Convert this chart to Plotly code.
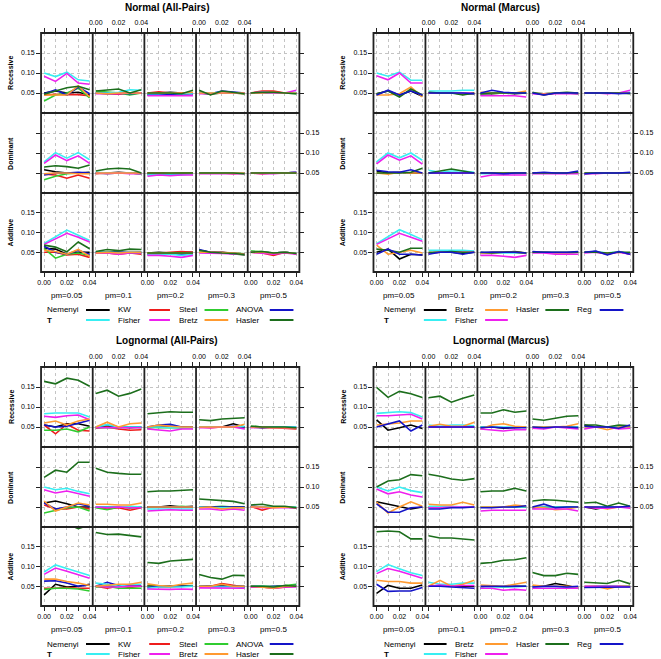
import plotly.graph_objects as go

# ---------------- data ----------------
X_VALUES = [0.00, 0.01, 0.02, 0.03, 0.04]
X_TICK_TEXT = ["0.00", "", "0.02", "", "0.04"]
Y_TICK_VALUES = [0.05, 0.10, 0.15]
Y_TICK_TEXT = ["0.05", "0.10", "0.15"]
PM_LABELS = ["pm=0.05", "pm=0.1", "pm=0.2", "pm=0.3", "pm=0.5"]
MODELS = ["Recessive", "Dominant", "Additive"]

# each array: 15 panels (Recessive pm .05..0.5, Dominant ..., Additive ...) x 5 points
# ---- Normal (All-Pairs)
NAP_NEMENYI = [
    [0.050,0.055,0.050,0.052,0.045],[0.050,0.048,0.048,0.050,0.050],[0.048,0.050,0.052,0.050,0.050],[0.052,0.048,0.052,0.050,0.050],[0.050,0.050,0.052,0.050,0.050],
    [0.058,0.053,0.050,0.050,0.052],[0.050,0.050,0.052,0.050,0.048],[0.050,0.050,0.048,0.050,0.050],[0.050,0.050,0.050,0.050,0.050],[0.050,0.050,0.050,0.050,0.052],
    [0.060,0.058,0.045,0.050,0.050],[0.050,0.050,0.050,0.048,0.050],[0.048,0.050,0.048,0.050,0.050],[0.055,0.050,0.050,0.046,0.044],[0.052,0.050,0.048,0.050,0.046]]
NAP_KW = [
    [0.045,0.047,0.046,0.046,0.043],[0.050,0.050,0.047,0.050,0.050],[0.050,0.053,0.050,0.050,0.050],[0.050,0.048,0.050,0.050,0.048],[0.050,0.055,0.055,0.050,0.050],
    [0.047,0.045,0.037,0.045,0.037],[0.048,0.050,0.050,0.050,0.048],[0.050,0.050,0.048,0.048,0.050],[0.050,0.050,0.050,0.048,0.050],[0.050,0.048,0.050,0.050,0.050],
    [0.050,0.050,0.043,0.045,0.037],[0.048,0.048,0.045,0.048,0.045],[0.048,0.048,0.050,0.052,0.050],[0.050,0.050,0.048,0.048,0.045],[0.050,0.048,0.042,0.050,0.046]]
NAP_STEEL = [
    [0.030,0.045,0.050,0.062,0.038],[0.055,0.052,0.050,0.045,0.050],[0.048,0.048,0.048,0.048,0.050],[0.050,0.047,0.050,0.050,0.048],[0.050,0.050,0.050,0.050,0.048],
    [0.033,0.042,0.048,0.050,0.050],[0.050,0.048,0.050,0.050,0.048],[0.048,0.048,0.048,0.050,0.050],[0.050,0.050,0.050,0.050,0.048],[0.050,0.050,0.050,0.050,0.050],
    [0.060,0.035,0.045,0.048,0.042],[0.050,0.052,0.050,0.048,0.048],[0.048,0.048,0.047,0.048,0.048],[0.050,0.050,0.048,0.048,0.046],[0.053,0.052,0.048,0.050,0.047]]
NAP_ANOVA = [
    [0.048,0.058,0.045,0.065,0.048],[0.050,0.050,0.050,0.048,0.050],[0.045,0.047,0.047,0.047,0.048],[0.050,0.048,0.055,0.052,0.050],[0.050,0.050,0.050,0.050,0.050],
    [0.045,0.050,0.050,0.052,0.050],[0.050,0.050,0.050,0.050,0.050],[0.048,0.048,0.045,0.048,0.050],[0.050,0.050,0.050,0.050,0.050],[0.050,0.050,0.050,0.050,0.052],
    [0.065,0.050,0.045,0.055,0.045],[0.050,0.050,0.050,0.050,0.050],[0.045,0.045,0.045,0.045,0.045],[0.057,0.050,0.050,0.047,0.045],[0.050,0.050,0.048,0.050,0.047]]
NAP_T = [
    [0.100,0.091,0.102,0.083,0.080],[0.050,0.050,0.052,0.058,0.057],[0.048,0.048,0.050,0.048,0.050],[0.050,0.050,0.052,0.050,0.050],[0.050,0.052,0.050,0.050,0.052],
    [0.078,0.101,0.087,0.101,0.083],[0.052,0.050,0.050,0.050,0.048],[0.045,0.045,0.045,0.045,0.048],[0.050,0.050,0.050,0.050,0.050],[0.050,0.050,0.050,0.050,0.052],
    [0.072,0.088,0.106,0.093,0.080],[0.050,0.050,0.048,0.050,0.050],[0.045,0.045,0.045,0.042,0.045],[0.050,0.048,0.048,0.046,0.045],[0.050,0.050,0.048,0.050,0.047]]
NAP_FISHER = [
    [0.092,0.079,0.099,0.075,0.072],[0.048,0.048,0.048,0.050,0.050],[0.043,0.043,0.043,0.043,0.043],[0.048,0.048,0.050,0.050,0.050],[0.050,0.052,0.050,0.050,0.057],
    [0.074,0.095,0.081,0.093,0.074],[0.050,0.048,0.050,0.048,0.048],[0.042,0.045,0.043,0.045,0.045],[0.048,0.048,0.048,0.047,0.048],[0.050,0.048,0.048,0.050,0.052],
    [0.070,0.085,0.098,0.088,0.076],[0.048,0.048,0.045,0.048,0.048],[0.042,0.042,0.040,0.037,0.042],[0.048,0.048,0.047,0.046,0.045],[0.050,0.048,0.045,0.048,0.045]]
NAP_BRETZ = [
    [0.045,0.045,0.045,0.068,0.040],[0.050,0.048,0.050,0.050,0.050],[0.050,0.050,0.050,0.050,0.052],[0.050,0.050,0.050,0.050,0.050],[0.050,0.050,0.052,0.050,0.050],
    [0.048,0.050,0.050,0.048,0.048],[0.050,0.050,0.050,0.050,0.050],[0.050,0.050,0.050,0.050,0.050],[0.050,0.050,0.050,0.050,0.050],[0.050,0.050,0.050,0.050,0.050],
    [0.055,0.052,0.045,0.057,0.040],[0.048,0.050,0.048,0.050,0.050],[0.048,0.048,0.048,0.048,0.048],[0.050,0.050,0.050,0.048,0.045],[0.050,0.050,0.048,0.050,0.047]]
NAP_HASLER = [
    [0.047,0.055,0.063,0.067,0.058],[0.055,0.058,0.060,0.050,0.058],[0.050,0.050,0.050,0.048,0.057],[0.057,0.045,0.055,0.052,0.048],[0.050,0.052,0.052,0.050,0.048],
    [0.065,0.068,0.066,0.062,0.070],[0.055,0.060,0.062,0.060,0.050],[0.050,0.050,0.050,0.050,0.050],[0.050,0.050,0.050,0.050,0.048],[0.050,0.050,0.050,0.050,0.050],
    [0.068,0.063,0.051,0.076,0.059],[0.052,0.057,0.054,0.058,0.057],[0.048,0.048,0.048,0.048,0.048],[0.055,0.050,0.048,0.047,0.044],[0.050,0.052,0.048,0.050,0.047]]

# ---- Normal (Marcus)
NM_NEMENYI = [
    [0.048,0.055,0.045,0.055,0.042],[0.050,0.050,0.050,0.048,0.048],[0.048,0.048,0.050,0.048,0.050],[0.050,0.048,0.050,0.050,0.048],[0.050,0.050,0.050,0.050,0.050],
    [0.055,0.050,0.052,0.050,0.050],[0.050,0.050,0.050,0.050,0.050],[0.050,0.050,0.048,0.050,0.050],[0.050,0.050,0.050,0.050,0.050],[0.048,0.050,0.050,0.050,0.050],
    [0.050,0.058,0.033,0.045,0.043],[0.048,0.050,0.050,0.047,0.050],[0.048,0.050,0.050,0.052,0.048],[0.050,0.050,0.048,0.048,0.050],[0.050,0.052,0.045,0.052,0.045]]
NM_T = [
    [0.100,0.092,0.102,0.082,0.082],[0.055,0.055,0.055,0.057,0.057],[0.050,0.050,0.050,0.050,0.052],[0.050,0.048,0.050,0.050,0.050],[0.050,0.050,0.050,0.050,0.052],
    [0.078,0.100,0.088,0.100,0.082],[0.057,0.052,0.055,0.055,0.052],[0.048,0.048,0.048,0.048,0.050],[0.050,0.050,0.050,0.050,0.050],[0.050,0.050,0.050,0.050,0.050],
    [0.072,0.090,0.107,0.095,0.082],[0.055,0.055,0.055,0.055,0.053],[0.048,0.048,0.048,0.048,0.048],[0.050,0.050,0.048,0.048,0.050],[0.050,0.052,0.048,0.052,0.047]]
NM_BRETZ = [
    [0.045,0.045,0.048,0.065,0.040],[0.050,0.050,0.050,0.050,0.050],[0.052,0.050,0.050,0.050,0.055],[0.050,0.048,0.050,0.050,0.050],[0.050,0.050,0.050,0.050,0.050],
    [0.050,0.047,0.052,0.050,0.050],[0.050,0.050,0.050,0.050,0.050],[0.050,0.050,0.050,0.050,0.050],[0.050,0.050,0.050,0.050,0.050],[0.050,0.050,0.050,0.050,0.050],
    [0.068,0.045,0.050,0.055,0.048],[0.048,0.050,0.050,0.050,0.050],[0.048,0.048,0.050,0.050,0.048],[0.050,0.050,0.048,0.048,0.050],[0.050,0.050,0.048,0.050,0.048]]
NM_FISHER = [
    [0.093,0.083,0.100,0.075,0.075],[0.050,0.050,0.050,0.050,0.050],[0.043,0.043,0.043,0.043,0.040],[0.048,0.046,0.048,0.048,0.048],[0.050,0.050,0.048,0.050,0.057],
    [0.073,0.095,0.082,0.093,0.072],[0.050,0.050,0.050,0.050,0.050],[0.040,0.045,0.045,0.045,0.045],[0.048,0.048,0.048,0.048,0.048],[0.048,0.048,0.050,0.050,0.050],
    [0.070,0.085,0.098,0.088,0.078],[0.048,0.050,0.050,0.050,0.050],[0.042,0.042,0.040,0.037,0.042],[0.048,0.048,0.045,0.045,0.045],[0.048,0.050,0.045,0.050,0.045]]
NM_HASLER = [
    [0.048,0.055,0.040,0.060,0.045],[0.052,0.050,0.050,0.045,0.050],[0.048,0.050,0.050,0.050,0.050],[0.052,0.045,0.050,0.052,0.050],[0.050,0.050,0.050,0.050,0.048],
    [0.050,0.050,0.050,0.052,0.062],[0.050,0.055,0.060,0.055,0.050],[0.050,0.050,0.050,0.050,0.050],[0.050,0.050,0.050,0.050,0.052],[0.050,0.050,0.050,0.050,0.050],
    [0.058,0.055,0.050,0.060,0.060],[0.050,0.050,0.052,0.050,0.050],[0.050,0.048,0.050,0.050,0.048],[0.050,0.050,0.050,0.050,0.050],[0.050,0.050,0.048,0.050,0.050]]
NM_REG = [
    [0.045,0.057,0.045,0.055,0.045],[0.050,0.050,0.050,0.050,0.048],[0.050,0.057,0.052,0.050,0.050],[0.050,0.045,0.050,0.050,0.050],[0.050,0.050,0.050,0.048,0.050],
    [0.057,0.053,0.052,0.058,0.050],[0.050,0.050,0.050,0.050,0.050],[0.050,0.050,0.048,0.050,0.050],[0.050,0.052,0.050,0.050,0.055],[0.048,0.050,0.050,0.050,0.052],
    [0.045,0.058,0.045,0.045,0.043],[0.045,0.050,0.050,0.045,0.050],[0.050,0.050,0.050,0.050,0.048],[0.052,0.050,0.050,0.050,0.052],[0.050,0.053,0.043,0.052,0.045]]

# ---- Lognormal (All-Pairs)
LAP_NEMENYI = [
    [0.055,0.050,0.058,0.058,0.052],[0.050,0.050,0.050,0.048,0.050],[0.048,0.050,0.052,0.050,0.050],[0.050,0.050,0.050,0.058,0.050],[0.050,0.050,0.050,0.048,0.048],
    [0.060,0.065,0.058,0.050,0.050],[0.050,0.050,0.050,0.048,0.050],[0.050,0.050,0.053,0.050,0.052],[0.050,0.050,0.048,0.050,0.050],[0.050,0.050,0.050,0.050,0.048],
    [0.028,0.055,0.048,0.050,0.055],[0.050,0.050,0.050,0.050,0.050],[0.052,0.050,0.050,0.052,0.050],[0.050,0.050,0.052,0.050,0.048],[0.050,0.050,0.048,0.052,0.050]]
LAP_KW = [
    [0.055,0.033,0.057,0.042,0.040],[0.047,0.050,0.045,0.042,0.043],[0.048,0.050,0.050,0.048,0.048],[0.050,0.048,0.050,0.050,0.048],[0.050,0.048,0.048,0.047,0.045],
    [0.055,0.045,0.045,0.050,0.045],[0.050,0.045,0.048,0.042,0.048],[0.050,0.050,0.050,0.050,0.050],[0.050,0.050,0.050,0.048,0.048],[0.052,0.042,0.050,0.050,0.048],
    [0.045,0.045,0.047,0.045,0.045],[0.050,0.045,0.050,0.047,0.050],[0.050,0.048,0.048,0.050,0.050],[0.050,0.050,0.057,0.053,0.048],[0.048,0.048,0.045,0.048,0.050]]
LAP_STEEL = [
    [0.042,0.042,0.045,0.038,0.050],[0.048,0.048,0.048,0.050,0.048],[0.050,0.048,0.048,0.048,0.050],[0.050,0.050,0.050,0.050,0.050],[0.052,0.050,0.050,0.050,0.048],
    [0.035,0.042,0.048,0.050,0.040],[0.048,0.043,0.050,0.048,0.050],[0.050,0.050,0.050,0.052,0.050],[0.050,0.050,0.052,0.050,0.050],[0.050,0.050,0.050,0.050,0.050],
    [0.042,0.045,0.045,0.043,0.038],[0.048,0.050,0.045,0.045,0.045],[0.050,0.050,0.050,0.050,0.052],[0.050,0.050,0.050,0.050,0.050],[0.050,0.050,0.050,0.052,0.055]]
LAP_ANOVA = [
    [0.055,0.050,0.052,0.060,0.067],[0.050,0.055,0.050,0.050,0.050],[0.050,0.055,0.057,0.050,0.050],[0.050,0.050,0.050,0.052,0.050],[0.050,0.048,0.050,0.050,0.050],
    [0.060,0.045,0.050,0.058,0.052],[0.050,0.050,0.050,0.050,0.050],[0.050,0.050,0.050,0.050,0.050],[0.050,0.050,0.050,0.050,0.050],[0.052,0.050,0.050,0.050,0.048],
    [0.063,0.064,0.058,0.050,0.053],[0.050,0.060,0.052,0.050,0.050],[0.047,0.050,0.050,0.050,0.050],[0.050,0.050,0.050,0.050,0.050],[0.050,0.048,0.050,0.050,0.052]]
LAP_T = [
    [0.083,0.085,0.085,0.085,0.075],[0.050,0.056,0.050,0.050,0.050],[0.050,0.050,0.048,0.048,0.048],[0.050,0.050,0.050,0.050,0.052],[0.050,0.050,0.050,0.050,0.050],
    [0.100,0.093,0.097,0.089,0.083],[0.050,0.050,0.050,0.052,0.050],[0.045,0.045,0.045,0.045,0.045],[0.050,0.048,0.048,0.048,0.048],[0.050,0.050,0.050,0.050,0.050],
    [0.086,0.104,0.095,0.085,0.077],[0.058,0.055,0.050,0.055,0.055],[0.045,0.048,0.048,0.048,0.050],[0.050,0.048,0.048,0.048,0.048],[0.050,0.050,0.048,0.050,0.050]]
LAP_FISHER = [
    [0.077,0.074,0.078,0.080,0.068],[0.048,0.048,0.048,0.048,0.048],[0.045,0.043,0.040,0.045,0.045],[0.048,0.048,0.050,0.050,0.045],[0.048,0.050,0.048,0.048,0.048],
    [0.093,0.085,0.090,0.083,0.077],[0.050,0.048,0.050,0.048,0.048],[0.040,0.042,0.043,0.042,0.042],[0.045,0.045,0.042,0.045,0.042],[0.050,0.048,0.048,0.048,0.048],
    [0.080,0.096,0.088,0.078,0.070],[0.050,0.048,0.048,0.050,0.050],[0.043,0.042,0.042,0.043,0.042],[0.046,0.046,0.046,0.046,0.045],[0.048,0.048,0.045,0.048,0.048]]
LAP_BRETZ = [
    [0.060,0.065,0.055,0.065,0.070],[0.050,0.062,0.050,0.058,0.060],[0.050,0.055,0.052,0.050,0.050],[0.050,0.050,0.050,0.050,0.057],[0.050,0.050,0.048,0.048,0.048],
    [0.065,0.040,0.050,0.060,0.055],[0.057,0.057,0.055,0.055,0.060],[0.050,0.050,0.050,0.050,0.050],[0.048,0.050,0.045,0.048,0.048],[0.050,0.050,0.048,0.050,0.048],
    [0.068,0.068,0.062,0.058,0.052],[0.050,0.052,0.055,0.055,0.060],[0.056,0.052,0.050,0.055,0.058],[0.050,0.050,0.055,0.050,0.050],[0.050,0.048,0.045,0.050,0.050]]
LAP_HASLER = [
    [0.164,0.158,0.172,0.167,0.152],[0.134,0.142,0.127,0.134,0.145],[0.083,0.085,0.088,0.087,0.087],[0.068,0.066,0.070,0.072,0.073],[0.052,0.050,0.050,0.050,0.048],
    [0.124,0.142,0.137,0.162,0.162],[0.147,0.137,0.134,0.132,0.132],[0.088,0.090,0.090,0.092,0.093],[0.070,0.068,0.066,0.064,0.058],[0.055,0.057,0.052,0.052,0.048],
    [0.215,0.212,0.208,0.196,0.205],[0.186,0.181,0.182,0.179,0.175],[0.110,0.108,0.114,0.116,0.118],[0.080,0.072,0.068,0.078,0.077],[0.050,0.050,0.048,0.052,0.050]]

# ---- Lognormal (Marcus)
LM_NEMENYI = [
    [0.068,0.042,0.048,0.055,0.046],[0.050,0.050,0.050,0.050,0.050],[0.050,0.050,0.047,0.048,0.050],[0.050,0.050,0.050,0.050,0.050],[0.055,0.050,0.050,0.050,0.050],
    [0.063,0.057,0.050,0.045,0.050],[0.050,0.050,0.050,0.050,0.050],[0.050,0.050,0.050,0.050,0.050],[0.048,0.050,0.050,0.050,0.050],[0.050,0.045,0.050,0.050,0.050],
    [0.032,0.052,0.045,0.045,0.053],[0.050,0.050,0.050,0.050,0.050],[0.045,0.050,0.048,0.050,0.050],[0.050,0.050,0.057,0.052,0.045],[0.048,0.050,0.050,0.050,0.050]]
LM_T = [
    [0.084,0.086,0.088,0.086,0.075],[0.055,0.052,0.055,0.055,0.053],[0.050,0.050,0.050,0.050,0.050],[0.050,0.050,0.050,0.050,0.050],[0.050,0.050,0.050,0.050,0.050],
    [0.100,0.090,0.100,0.091,0.086],[0.052,0.052,0.052,0.050,0.050],[0.050,0.050,0.050,0.050,0.050],[0.050,0.050,0.050,0.050,0.050],[0.050,0.050,0.050,0.050,0.050],
    [0.087,0.105,0.094,0.084,0.077],[0.060,0.055,0.055,0.058,0.058],[0.045,0.048,0.048,0.048,0.050],[0.048,0.048,0.048,0.048,0.048],[0.050,0.050,0.050,0.050,0.050]]
LM_BRETZ = [
    [0.055,0.058,0.060,0.065,0.065],[0.052,0.057,0.052,0.052,0.062],[0.045,0.055,0.058,0.052,0.050],[0.050,0.050,0.050,0.052,0.058],[0.050,0.050,0.043,0.050,0.050],
    [0.062,0.035,0.050,0.063,0.052],[0.057,0.055,0.055,0.062,0.055],[0.050,0.050,0.050,0.055,0.052],[0.050,0.048,0.043,0.045,0.050],[0.050,0.050,0.045,0.050,0.050],
    [0.065,0.062,0.062,0.058,0.058],[0.050,0.065,0.050,0.055,0.065],[0.053,0.052,0.050,0.055,0.060],[0.053,0.050,0.050,0.050,0.048],[0.050,0.050,0.043,0.050,0.050]]
LM_FISHER = [
    [0.078,0.078,0.080,0.082,0.070],[0.050,0.050,0.050,0.050,0.050],[0.045,0.043,0.040,0.043,0.043],[0.047,0.045,0.050,0.048,0.045],[0.045,0.050,0.050,0.045,0.047],
    [0.095,0.083,0.088,0.080,0.075],[0.048,0.048,0.050,0.050,0.050],[0.040,0.042,0.042,0.042,0.042],[0.045,0.045,0.045,0.045,0.040],[0.050,0.047,0.047,0.050,0.047],
    [0.082,0.095,0.088,0.078,0.070],[0.050,0.053,0.050,0.052,0.052],[0.045,0.045,0.040,0.042,0.040],[0.045,0.045,0.045,0.045,0.045],[0.050,0.050,0.050,0.050,0.048]]
LM_HASLER = [
    [0.149,0.124,0.139,0.133,0.124],[0.123,0.127,0.112,0.122,0.130],[0.085,0.085,0.093,0.087,0.090],[0.070,0.067,0.072,0.077,0.078],[0.055,0.055,0.050,0.055,0.053],
    [0.100,0.115,0.118,0.131,0.128],[0.132,0.127,0.120,0.117,0.121],[0.088,0.090,0.090,0.097,0.090],[0.065,0.068,0.067,0.065,0.062],[0.060,0.062,0.052,0.060,0.052],
    [0.188,0.190,0.188,0.170,0.170],[0.178,0.172,0.172,0.170,0.167],[0.108,0.110,0.116,0.117,0.122],[0.085,0.077,0.077,0.083,0.080],[0.060,0.058,0.057,0.065,0.056]]
LM_REG = [
    [0.050,0.057,0.065,0.040,0.055],[0.050,0.050,0.050,0.050,0.050],[0.048,0.050,0.048,0.048,0.048],[0.050,0.048,0.050,0.050,0.048],[0.052,0.050,0.050,0.047,0.055],
    [0.058,0.037,0.037,0.048,0.050],[0.045,0.045,0.048,0.048,0.050],[0.048,0.048,0.050,0.050,0.053],[0.050,0.057,0.048,0.050,0.050],[0.050,0.050,0.050,0.050,0.052],
    [0.055,0.037,0.038,0.038,0.047],[0.050,0.050,0.048,0.047,0.045],[0.050,0.050,0.050,0.050,0.050],[0.048,0.050,0.050,0.048,0.050],[0.047,0.047,0.048,0.047,0.048]]

# ---------------- styling / layout ----------------
W, H = 661, 659
FONT = "Liberation Sans, Arial, sans-serif"
FRAME = "#222222"
COL = {
    "Nemenyi": "#000000", "KW": "#EE1C1C", "Steel": "#30CC30", "ANOVA": "#1414C8",
    "T": "#38EEF2", "Fisher": "#EE20EE", "Bretz": "#FF9A30", "Hasler": "#1C6E1C",
    "Reg": "#1414C8",
}

AP_LEG_X = [(41, 83, 107), (113, 147, 168), (175, 203, 227), (233, 269, 293)]
M_LEG_X = [(383, 425, 448), (454, 487, 510), (516, 548, 572), (578, 603, 627)]

blocks = [
    dict(title="Normal (All-Pairs)", tx=165, ty=8, x0=37.5, x1=299.0, rows=[33, 113, 193, 272],
         series=[("Nemenyi", NAP_NEMENYI), ("KW", NAP_KW), ("Steel", NAP_STEEL), ("ANOVA", NAP_ANOVA),
                 ("T", NAP_T), ("Fisher", NAP_FISHER), ("Bretz", NAP_BRETZ), ("Hasler", NAP_HASLER)],
         leg_y=[310, 320], leg_x=AP_LEG_X,
         leg=[["Nemenyi", "KW", "Steel", "ANOVA"], ["T", "Fisher", "Bretz", "Hasler"]],
         strip_y=296, rowlab_x=7),
    dict(title="Normal (Marcus)", tx=503, ty=8, x0=374.0, x1=637.0, rows=[33, 113, 193, 272],
         series=[("Nemenyi", NM_NEMENYI), ("T", NM_T), ("Bretz", NM_BRETZ), ("Fisher", NM_FISHER),
                 ("Hasler", NM_HASLER), ("Reg", NM_REG)],
         leg_y=[310, 320], leg_x=M_LEG_X,
         leg=[["Nemenyi", "Bretz", "Hasler", "Reg"], ["T", "Fisher", None, None]],
         strip_y=296, rowlab_x=343),
    dict(title="Lognormal (All-Pairs)", tx=165, ty=340, x0=37.5, x1=299.0, rows=[367, 447, 527, 606],
         series=[("Nemenyi", LAP_NEMENYI), ("KW", LAP_KW), ("Steel", LAP_STEEL), ("ANOVA", LAP_ANOVA),
                 ("T", LAP_T), ("Fisher", LAP_FISHER), ("Bretz", LAP_BRETZ), ("Hasler", LAP_HASLER)],
         leg_y=[644, 654], leg_x=AP_LEG_X,
         leg=[["Nemenyi", "KW", "Steel", "ANOVA"], ["T", "Fisher", "Bretz", "Hasler"]],
         strip_y=629, rowlab_x=7),
    dict(title="Lognormal (Marcus)", tx=503, ty=340, x0=374.0, x1=637.0, rows=[367, 447, 527, 606],
         series=[("Nemenyi", LM_NEMENYI), ("T", LM_T), ("Bretz", LM_BRETZ), ("Fisher", LM_FISHER),
                 ("Hasler", LM_HASLER), ("Reg", LM_REG)],
         leg_y=[644, 654], leg_x=M_LEG_X,
         leg=[["Nemenyi", "Bretz", "Hasler", "Reg"], ["T", "Fisher", None, None]],
         strip_y=629, rowlab_x=343),
]


def px(x):
    return x / W


def py(y):
    return 1 - y / H


fig = go.Figure()
layout = dict(width=W, height=H, margin=dict(l=0, r=0, t=0, b=0), autosize=False,
              paper_bgcolor="white", plot_bgcolor="white", showlegend=False,
              font=dict(family=FONT, color="black"))
annotations = []
shapes = []

k = 0
for b in blocks:
    cw = (b["x1"] - b["x0"]) / 5
    for r in range(3):
        top, bot = b["rows"][r], b["rows"][r + 1]
        for c in range(5):
            k += 1
            xa = "x" if k == 1 else f"x{k}"
            ya = "y" if k == 1 else f"y{k}"
            xkey = "xaxis" if k == 1 else f"xaxis{k}"
            ykey = "yaxis" if k == 1 else f"yaxis{k}"
            xl = b["x0"] + c * cw
            layout[xkey] = dict(
                domain=[px(xl), px(xl + cw)], anchor=ya, range=[-0.0027, 0.0427],
                tickvals=X_VALUES, ticktext=X_TICK_TEXT,
                showgrid=True, gridcolor="#c4c4c4", griddash="dot", gridwidth=1,
                zeroline=False, showline=False,
                side="top" if r == 0 else "bottom",
                ticks="outside" if r in (0, 2) else "", ticklen=4, tickwidth=1, tickcolor=FRAME,
                showticklabels=(r == 0 and c in (1, 3)) or (r == 2 and c in (0, 2, 4)),
                tickfont=dict(size=7, family=FONT, color="black"), fixedrange=True,
            )
            layout[ykey] = dict(
                domain=[py(bot), py(top)], anchor=xa, range=[0.0, 0.2],
                tickvals=Y_TICK_VALUES, ticktext=Y_TICK_TEXT,
                showgrid=True, gridcolor="#c4c4c4", griddash="dot", gridwidth=1,
                zeroline=False, showline=False,
                side="right" if c == 4 else "left",
                ticks="outside" if c in (0, 4) else "", ticklen=4, tickwidth=1, tickcolor=FRAME,
                showticklabels=(c == 0 and r in (0, 2)) or (c == 4 and r == 1),
                tickfont=dict(size=7, family=FONT, color="black"), fixedrange=True,
            )
            p = r * 5 + c
            for name, arr in b["series"]:
                fig.add_trace(go.Scatter(
                    x=X_VALUES, y=arr[p], mode="lines", name=name,
                    line=dict(color=COL[name], width=1.6), xaxis=xa, yaxis=ya,
                    hoverinfo="skip", showlegend=False))
            if r == 2:
                annotations.append(dict(text=PM_LABELS[c], x=px(xl + cw / 2), y=py(b["strip_y"]),
                                        xref="paper", yref="paper", showarrow=False,
                                        xanchor="center", yanchor="middle",
                                        font=dict(size=8, family=FONT)))
        annotations.append(dict(text=f"<b>{MODELS[r]}</b>", x=px(b["rowlab_x"]), y=py((top + bot) / 2),
                                xref="paper", yref="paper", showarrow=False, textangle=-90,
                                xanchor="center", yanchor="middle", font=dict(size=7, family=FONT)))
    # panel frames
    shapes.append(dict(type="rect", xref="paper", yref="paper",
                       x0=px(b["x0"]), x1=px(b["x1"]), y0=py(b["rows"][3]), y1=py(b["rows"][0]),
                       line=dict(color=FRAME, width=1.8), fillcolor="rgba(0,0,0,0)", layer="above"))
    for c in range(1, 5):
        xx = px(b["x0"] + c * cw)
        shapes.append(dict(type="line", xref="paper", yref="paper", x0=xx, x1=xx,
                           y0=py(b["rows"][3]), y1=py(b["rows"][0]),
                           line=dict(color=FRAME, width=1.8), layer="above"))
    for r in range(1, 3):
        yy = py(b["rows"][r])
        shapes.append(dict(type="line", xref="paper", yref="paper", x0=px(b["x0"]), x1=px(b["x1"]),
                           y0=yy, y1=yy, line=dict(color=FRAME, width=1.8), layer="above"))
    # title
    annotations.append(dict(text=f"<b>{b['title']}</b>", x=px(b["tx"]), y=py(b["ty"]),
                            xref="paper", yref="paper", showarrow=False,
                            xanchor="center", yanchor="middle", font=dict(size=10, family=FONT)))
    # key
    for ri, row in enumerate(b["leg"]):
        yy = b["leg_y"][ri]
        for ci, name in enumerate(row):
            if name is None:
                continue
            lx, l0, l1 = b["leg_x"][ci]
            txt = "<b>T</b>" if name == "T" else name
            annotations.append(dict(text=txt, x=px(lx), y=py(yy), xref="paper", yref="paper",
                                    showarrow=False, xanchor="left", yanchor="middle",
                                    font=dict(size=8, family=FONT)))
            shapes.append(dict(type="line", xref="paper", yref="paper",
                               x0=px(l0), x1=px(l1), y0=py(yy), y1=py(yy),
                               line=dict(color=COL[name], width=2)))

layout["annotations"] = annotations
layout["shapes"] = shapes
fig.update_layout(**layout)
fig.write_html("out.html", config={"displayModeBar": False},
               post_script="document.body.style.margin='0px';document.body.style.overflow='hidden';")
